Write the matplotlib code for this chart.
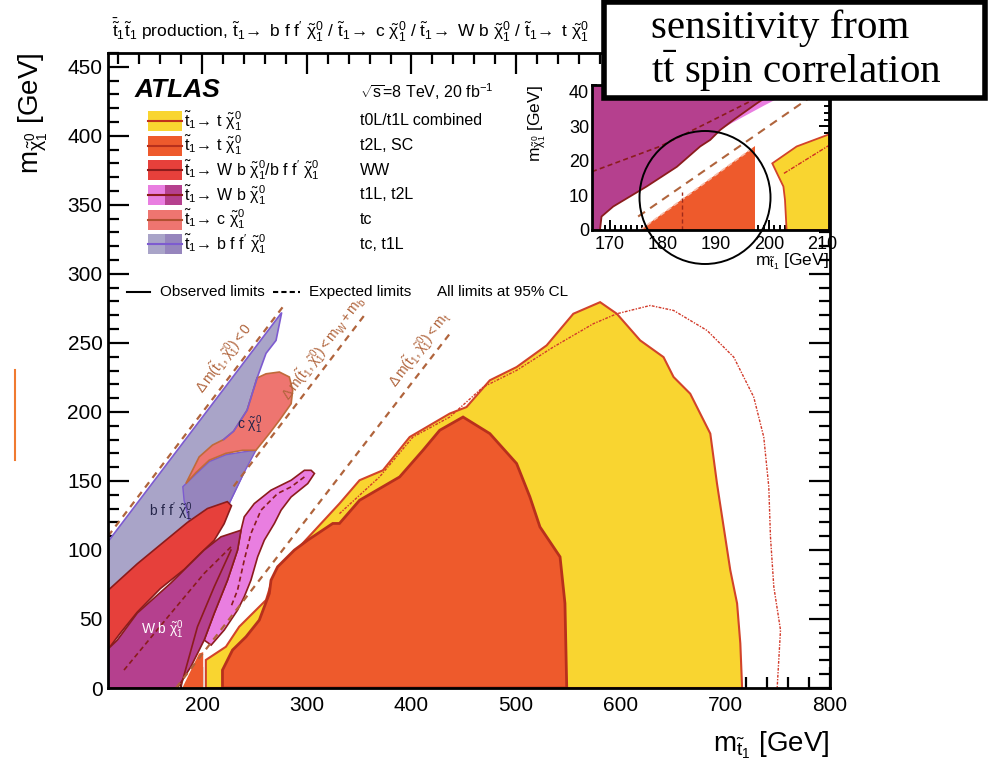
import matplotlib
matplotlib.use('Agg')
import matplotlib.pyplot as plt
from matplotlib.patches import Rectangle, Ellipse
from matplotlib.lines import Line2D
from matplotlib.ticker import MultipleLocator

plt.rcParams['font.family'] = ['Liberation Sans', 'DejaVu Sans']
plt.rcParams['mathtext.fontset'] = 'custom'
plt.rcParams['mathtext.rm'] = 'Liberation Sans'
plt.rcParams['mathtext.it'] = 'Liberation Sans'
plt.rcParams['mathtext.bf'] = 'Liberation Sans:bold'
plt.rcParams['mathtext.sf'] = 'Liberation Sans'

# ---------------- data ----------------
# t0L/t1L combined (yellow)
yellow_x = [203.5, 203.5, 222.7, 235.4, 261.0, 267.4, 292.9, 331.2, 350.4, 372.7, 398.3, 436.6, 452.6,
            474.9, 500.5, 529.2, 554.7, 580.3, 596.3, 618.6, 640.9, 650.5, 666.4, 685.6, 692.0, 704.7,
            711.2, 714.3, 716.0]
yellow_y = [0, 20.3, 29.9, 44.4, 63.7, 79.4, 102.2, 133.6, 150.5, 157.7, 181.8, 198.8, 203.5,
            222.9, 232.5, 248.2, 271.1, 279.5, 271.1, 251.8, 239.7, 225.3, 213.2, 184.3, 148.1, 85.4,
            61.3, 32.3, 0]
# expected limit of the combined t0L/t1L analysis (dotted)
yexp_x = [331.2, 369.5, 401.4, 436.6, 468.5, 500.5, 535.6, 573.9, 596.3, 628.2, 650.5, 682.5, 708.0,
          727.1, 736.7, 741.5, 743.1, 746.3, 752.7, 749.5]
yexp_y = [126.3, 152.9, 181.8, 196.3, 218.0, 230.1, 247.0, 263.9, 271.1, 277.1, 273.5, 259.0, 239.7,
          210.8, 181.8, 145.7, 109.5, 73.3, 42.0, 0]
# t2L, SC (orange)
orange_x = [219.4, 219.4, 229.0, 241.9, 254.6, 264.2, 265.8, 272.1, 288.1, 300.9, 324.8, 331.2, 350.4,
            388.7, 411.0, 427.0, 449.3, 474.9, 500.5, 513.2, 522.8, 542.0, 546.7, 548.4]
orange_y = [0, 13.0, 27.5, 37.1, 49.2, 68.5, 78.1, 87.8, 99.9, 107.1, 119.2, 119.2, 136.0,
            152.9, 172.2, 186.7, 196.3, 184.3, 162.6, 138.4, 116.7, 95.0, 61.3, 0]
otri_x = [181, 201, 201, 197]
otri_y = [0, 0, 26, 25]
# tc, t1L (lilac)
lilac_x = [110, 272, 276, 270.6, 261.0, 252.5, 243.0, 230.0, 220.5, 241.0, 226.0, 211.5, 199, 170, 138, 110]
lilac_y = [106, 268, 272, 251.8, 242.4, 224.6, 201.0, 184.0, 175.0, 158.0, 134.0, 126.6, 112, 83, 60, 48]
lilacd_x = [181.5, 194.0, 206.7, 222.7, 238.6, 251.4, 241.2, 225.9, 211.5, 197.1, 187.5, 182.7]
lilacd_y = [145.8, 155.0, 164.0, 169.0, 171.0, 172.2, 157.7, 133.9, 126.6, 114.3, 121.6, 136.0]
# tc (salmon)
salmon_x = [252.5, 261.0, 273.8, 283.3, 286.5, 285.0, 273.8, 264.2, 251.4, 238.6, 222.7, 206.7, 194.0,
            184.4, 197.1, 209.9, 220.5, 230.0, 242.9]
salmon_y = [224.6, 227.6, 228.9, 225.3, 215.6, 205.9, 193.9, 184.3, 172.2, 172.2, 170.0, 165.0, 156.0,
            148.1, 167.4, 176.0, 180.0, 186.0, 201.2]
# WW (red)
red_x = [109, 138, 186, 205, 224, 228, 221, 211.5, 199, 183, 160, 138, 122, 112, 109]
red_y = [70, 90, 120, 130, 135, 132, 119, 107, 98, 86, 72, 55, 40, 30, 22]
# t1L, t2L (magenta / pink)
mag_x = [109, 118.9, 138, 170, 201.9, 217.9, 237.1, 233.8, 224.2, 211.5, 201.9, 189.2, 176.3, 109]
mag_y = [27.5, 34.7, 54.3, 76, 99.9, 109.5, 114.3, 99.9, 78.1, 54.1, 34.7, 15.4, 0, 0]
pink_x = [304.1, 307.3, 300.9, 285.0, 275.4, 269.0, 259.4, 253.0, 246.6, 240.2, 233.8, 221.1, 208.6,
          201.9, 211.5, 224.2, 233.8, 237.1, 240.2, 249.8, 265.8, 285.0, 297.7]
pink_y = [157.7, 155.4, 148.1, 138.4, 128.8, 119.2, 107.1, 95.0, 78.1, 66.1, 56.4, 42.0, 31.1,
          34.7, 54.1, 78.1, 99.9, 114.3, 124.0, 133.6, 143.3, 150.5, 157.7]
pexp_x = [297.7, 285.0, 272.1, 256.2, 246.6, 240.2, 233.8, 227.5]
pexp_y = [152.9, 145.7, 140.9, 128.8, 111.9, 92.6, 70.9, 58.8]
mobs_x = [179.6, 195.5, 211.5, 227.5]
mobs_y = [0.9, 44.4, 73.3, 99.9]
mexp_x = [125.3, 170.0, 201.9, 227.5]
mexp_y = [13.0, 54.0, 83.0, 102.2]
# kinematic boundaries
kin0_x, kin0_y = [110, 277], [110, 276]
kinwb_x, kinwb_y = [230, 355], [146, 270]
kint_x, kint_y = [175, 437], [0, 257]

# inset
in_mag_x = [166.6, 168.1, 168.4, 170.6, 176.9, 182.6, 187.0, 188.9, 190.8, 193.3, 197.7, 203.0, 166.6]
in_mag_y = [0, 0, 3.9, 6.8, 12.6, 18.3, 24.2, 26.1, 29.0, 31.9, 36.7, 42, 42]
in_pink_x = [190.8, 197.7, 203.0, 206.5, 199.0, 193.0]
in_pink_y = [29.0, 36.7, 42.0, 42.0, 36.0, 31.0]
in_or_x = [175.7, 197.3, 197.3]
in_or_y = [0, 0, 24.2]
in_yel_x = [203.3, 203.0, 202.7, 201.5, 200.6, 205.2, 211.3, 211.3]
in_yel_y = [0, 8.7, 12.6, 16.4, 19.3, 24.2, 27.7, 0]
in_exp_x, in_exp_y = [175.3, 211.3], [3.9, 42.2]
in_mexp_x = [166.6, 179.4, 188.2, 197.0, 203.0]
in_mexp_y = [16.9, 24.2, 30.9, 37.7, 42.0]
in_yexp_x, in_yexp_y = [202.8, 211.3], [16.4, 24.5]

legend_left = [r'$\tilde{t}_1\!\rightarrow\,\mathrm{t}\ \tilde{\chi}^0_1$',
               r'$\tilde{t}_1\!\rightarrow\,\mathrm{t}\ \tilde{\chi}^0_1$',
               r'$\tilde{t}_1\!\rightarrow\,\mathrm{W\ b}\ \tilde{\chi}^0_1/\mathrm{b\ f\ f^{\prime}}\ \tilde{\chi}^0_1$',
               r'$\tilde{t}_1\!\rightarrow\,\mathrm{W\ b}\ \tilde{\chi}^0_1$',
               r'$\tilde{t}_1\!\rightarrow\,\mathrm{c}\ \tilde{\chi}^0_1$',
               r'$\tilde{t}_1\!\rightarrow\,\mathrm{b\ f\ f^{\prime}}\ \tilde{\chi}^0_1$']
legend_right = ['t0L/t1L combined', 't2L, SC', 'WW', 't1L, t2L', 'tc', 'tc, t1L']

# colours
C_YEL = '#f9d530'
C_ORA = '#ee5a2c'
C_RED = '#e6403b'
C_PINK = '#e97ee0'
C_MAG = '#b5408e'
C_SAL = '#ee7570'
C_LIL = '#a9a4c8'
C_LILD = '#9685bd'
C_EDGE = '#8b1c1c'
C_PURP = '#7d5bd0'
C_KIN = '#b0643c'

W, H = 988, 765
fig = plt.figure(figsize=(W / 100, H / 100), dpi=100)
fig.patch.set_facecolor('white')


def fx(px):
    return px / W


def fy(py):
    return 1 - py / H


ax = fig.add_axes([fx(108), fy(688), fx(830) - fx(108), fy(53) - fy(688)])
ax.set_xlim(110, 800)
ax.set_ylim(0, 460)

ax.fill(lilac_x, lilac_y, fc=C_LIL, ec=C_PURP, lw=1.2, zorder=2)
ax.fill(lilacd_x, lilacd_y, fc=C_LILD, ec=C_PURP, lw=1.0, zorder=2.1)
ax.fill(salmon_x, salmon_y, fc=C_SAL, ec='#c06a3a', lw=1.2, zorder=2.2)
ax.plot([252.5, 242.9, 230.0, 220.5], [224.6, 201.2, 186.0, 180.0], color=C_PURP, lw=1.2, zorder=2.25)
ax.fill(red_x, red_y, fc=C_RED, ec=C_EDGE, lw=1.2, zorder=2.3)
ax.fill(pink_x, pink_y, fc=C_PINK, ec=C_EDGE, lw=1.2, zorder=2.4)
ax.fill(mag_x, mag_y, fc=C_MAG, ec=C_EDGE, lw=1.2, zorder=2.5)
ax.fill(yellow_x, yellow_y, fc=C_YEL, ec='#d2432a', lw=1.5, zorder=2.6)
ax.fill(orange_x, orange_y, fc=C_ORA, ec='#b8301c', lw=2.0, zorder=2.7)
ax.fill(otri_x, otri_y, fc=C_ORA, ec='none', zorder=2.7)

ax.plot(yexp_x, yexp_y, color='#d23a2a', lw=1.0, ls=(0, (2, 1, 1, 1)), zorder=3)
ax.plot(pexp_x, pexp_y, color=C_EDGE, lw=1.2, ls=(0, (3, 2)), zorder=3)
ax.plot(mobs_x, mobs_y, color=C_EDGE, lw=1.2, zorder=3)
ax.plot(mexp_x, mexp_y, color=C_EDGE, lw=1.2, ls=(0, (3, 2)), zorder=3)

for kx, ky in [(kin0_x, kin0_y), (kinwb_x, kinwb_y), (kint_x, kint_y)]:
    ax.plot(kx, ky, color=C_KIN, lw=1.6, ls=(0, (3, 2.5)), zorder=3.5)

rot = 52.9
kfs = 10
ax.text(221, 239, r'$\Delta\,\mathrm{m}(\tilde{t}_1,\tilde{\chi}^0_1) < 0$', rotation=rot,
        color=C_KIN, fontsize=kfs, ha='center', va='center', zorder=4)
ax.text(316, 246, r'$\Delta\,\mathrm{m}(\tilde{t}_1,\tilde{\chi}^0_1) < \mathrm{m_W} + \mathrm{m_b}$',
        rotation=rot, color=C_KIN, fontsize=kfs, ha='center', va='center', zorder=4)
ax.text(408, 245, r'$\Delta\,\mathrm{m}(\tilde{t}_1,\tilde{\chi}^0_1) < \mathrm{m_t}$', rotation=rot,
        color=C_KIN, fontsize=kfs, ha='center', va='center', zorder=4)

ax.text(162, 42, r'$\mathrm{W\ b}\ \tilde{\chi}^0_1$', color='white', fontsize=10,
        ha='center', va='center', zorder=4)
ax.text(170, 128, r'$\mathrm{b\ f\ f^{\prime}}\ \tilde{\chi}^0_1$', color='#25254a', fontsize=10,
        ha='center', va='center', zorder=4)
ax.text(245, 191, r'$\mathrm{c}\ \tilde{\chi}^0_1$', color='#25254a', fontsize=10,
        ha='center', va='center', zorder=4)

ax.xaxis.set_major_locator(MultipleLocator(100))
ax.xaxis.set_minor_locator(MultipleLocator(20))
ax.yaxis.set_major_locator(MultipleLocator(50))
ax.yaxis.set_minor_locator(MultipleLocator(10))
ax.tick_params(which='both', direction='in', top=True, right=True, width=1.6, labelsize=15)
ax.tick_params(which='major', length=15)
ax.tick_params(which='minor', length=8)
ax.tick_params(axis='x', pad=6)
ax.tick_params(axis='y', pad=4)
for s in ax.spines.values():
    s.set_linewidth(2)
    s.set_zorder(5)

# axis labels
fig.text(fx(33), fy(53), r'$\mathrm{m}_{\tilde{\chi}^0_1}$ [GeV]', rotation=90, va='top', ha='center',
         fontsize=20)
fig.text(fx(829), fy(745), r'$\mathrm{m}_{\tilde{t}_1}$ [GeV]', ha='right', va='center', fontsize=20)

# title
fig.text(fx(351), fy(30),
         r'$\bar{\tilde{t}}_1\tilde{t}_1$ production, $\tilde{t}_1\!\rightarrow$ b f f$^{\prime}$ $\tilde{\chi}^0_1$'
         r' / $\tilde{t}_1\!\rightarrow$ c $\tilde{\chi}^0_1$ / $\tilde{t}_1\!\rightarrow$ W b $\tilde{\chi}^0_1$'
         r' / $\tilde{t}_1\!\rightarrow$ t $\tilde{\chi}^0_1$',
         ha='center', va='center', fontsize=12.5)

# legend block
fig.text(fx(135), fy(90), 'ATLAS', fontsize=19, fontweight='bold', fontstyle='italic', va='center')
fig.text(fx(360), fy(92), r'$\sqrt{\mathrm{s}}$=8 TeV, 20 fb$^{-1}$', fontsize=11.5, va='center')

patch_specs = [
    ([C_YEL], '#c0301c'),
    ([C_ORA], '#b8301c'),
    ([C_RED], C_EDGE),
    ([C_PINK, C_MAG], C_EDGE),
    ([C_SAL], '#b05030'),
    ([C_LIL, C_LILD], C_PURP),
]
row0, dy = 120.8, 24.7
for i, (cols, lc) in enumerate(patch_specs):
    yc = row0 + i * dy
    n = len(cols)
    wpx = 34 / n
    for j, c in enumerate(cols):
        fig.add_artist(Rectangle((fx(148 + j * wpx), fy(yc + 10)), wpx / W, 20 / H,
                                 transform=fig.transFigure, fc=c, ec='none', zorder=3))
    fig.add_artist(Line2D([fx(148), fx(182)], [fy(yc), fy(yc)], transform=fig.transFigure,
                          color=lc, lw=1.5, zorder=4))
    fig.text(fx(184), fy(yc), legend_left[i], fontsize=11.5, va='center', ha='left')
    fig.text(fx(360), fy(yc), legend_right[i], fontsize=11.5, va='center', ha='left')

# observed / expected line legend
yl = 292
fig.add_artist(Line2D([fx(127), fx(150)], [fy(yl), fy(yl)], transform=fig.transFigure,
                      color='black', lw=1.5))
fig.text(fx(160), fy(yl), 'Observed limits', fontsize=11, va='center')
fig.add_artist(Line2D([fx(273), fx(300)], [fy(yl), fy(yl)], transform=fig.transFigure,
                      color='black', lw=1.5, ls=(0, (2.5, 1.5))))
fig.text(fx(309), fy(yl), 'Expected limits', fontsize=11, va='center')
fig.text(fx(437), fy(yl), 'All limits at 95% CL', fontsize=11, va='center')

# ---------------- inset ----------------
axin = fig.add_axes([fx(592), fy(230), fx(829) - fx(592), fy(85) - fy(230)])
axin.set_xlim(166.6, 211.3)
axin.set_ylim(0, 42)
axin.fill(in_pink_x, in_pink_y, fc=C_PINK, ec='none', zorder=2)
axin.fill(in_mag_x, in_mag_y, fc=C_MAG, ec=C_EDGE, lw=1.3, zorder=2.1)
axin.fill(in_or_x, in_or_y, fc=C_ORA, ec='none', zorder=2.2)
axin.fill(in_yel_x, in_yel_y, fc=C_YEL, ec='#d2432a', lw=1.3, zorder=2.2)
axin.plot(in_or_x[:1] + in_or_x[2:], in_or_y[:1] + in_or_y[2:], color='#f5c0b0', lw=1.2,
          ls=(0, (3, 2)), zorder=3)
axin.plot(in_exp_x, in_exp_y, color=C_KIN, lw=1.5, ls=(0, (4, 3)), zorder=3)
axin.plot(in_mexp_x, in_mexp_y, color=C_EDGE, lw=1.2, ls=(0, (3, 2)), zorder=3)
axin.plot(in_yexp_x, in_yexp_y, color='#d03020', lw=1.0, ls=(0, (3, 1, 1, 1)), zorder=3)
axin.plot([183.5, 183.5], [0, 11], color='#a02a1a', lw=1.0, ls=(0, (3, 2)), zorder=3)
axin.xaxis.set_major_locator(MultipleLocator(10))
axin.xaxis.set_minor_locator(MultipleLocator(1))
axin.yaxis.set_major_locator(MultipleLocator(10))
axin.yaxis.set_minor_locator(MultipleLocator(2))
axin.tick_params(which='both', direction='in', top=True, right=True, width=1.4, labelsize=13)
axin.tick_params(which='major', length=7)
axin.tick_params(which='minor', length=3.5)
axin.tick_params(axis='x', pad=4)
axin.tick_params(axis='y', pad=2)
for s in axin.spines.values():
    s.set_linewidth(2)
    s.set_zorder(5)
fig.text(fx(537), fy(85), r'$\mathrm{m}_{\tilde{\chi}^0_1}$ [GeV]', rotation=90, va='top', ha='center',
         fontsize=12.5)
fig.text(fx(829), fy(262), r'$\mathrm{m}_{\tilde{t}_1}$ [GeV]', ha='right', va='center', fontsize=12.5)

# circle highlighting the inset region
fig.add_artist(Ellipse((fx(705), fy(197.5)), 131 / W, 133 / H, transform=fig.transFigure,
                       fill=False, ec='black', lw=1.4, zorder=9))

# annotation box
fig.add_artist(Rectangle((fx(604), fy(98)), (985 - 604) / W, 96 / H, transform=fig.transFigure,
                         fc='white', ec='black', lw=4, zorder=10))
fig.text(fx(651), fy(28), 'sensitivity from', fontsize=29.5, family='Liberation Serif',
         va='center', ha='left', zorder=11)
fig.text(fx(651), fy(71), r't$\bar{\mathrm{t}}$ spin correlation', fontsize=29.5,
         family='Liberation Serif', math_fontfamily='stix', va='center', ha='left', zorder=11)

# stray orange mark on the left
fig.add_artist(Line2D([fx(15), fx(15)], [fy(370), fy(460)], transform=fig.transFigure,
                      color='#f07a30', lw=1.5))

fig.savefig('out.png', dpi=100)
